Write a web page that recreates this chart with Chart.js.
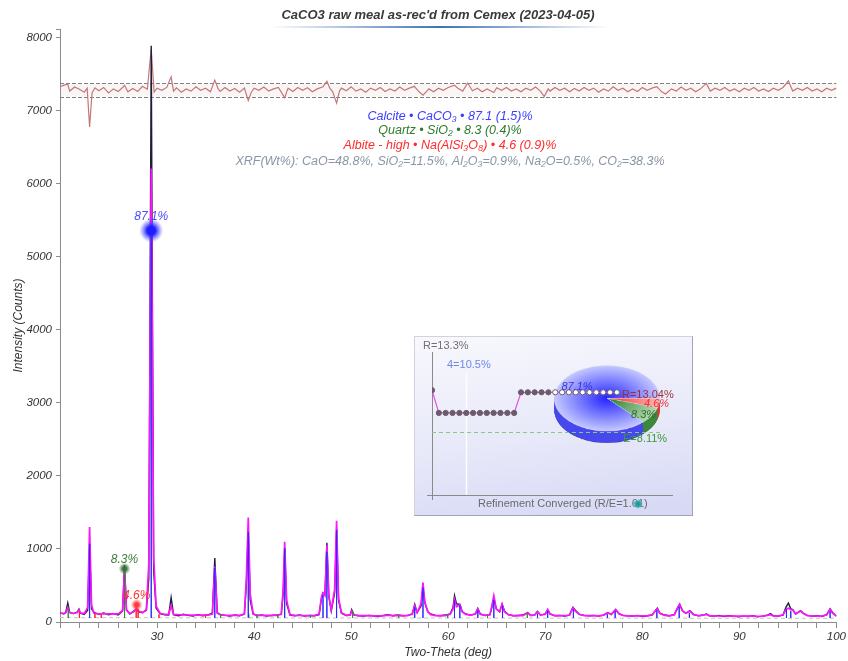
<!DOCTYPE html>
<html>
<head>
<meta charset="utf-8">
<script src="https://cdn.jsdelivr.net/npm/chart.js"></script>
<style>
  html, body { margin: 0; padding: 0; background: #fff; }
  #wrap { position: relative; width: 848px; height: 661px; }
  #main { position: absolute; left: 0; top: 0; }
  #inset {
    position: absolute; left: 414px; top: 336px; width: 277px; height: 178px;
    border: 1px solid #d2d2dc; border-right-color: #a4a4b0; border-bottom-color: #a4a4b0;
    background: linear-gradient(172deg, #f8f8fd 0%, #e9eaf9 50%, #d6d8f5 100%);
    overflow: hidden;
  }
  #pie { position: absolute; left: 137px; top: 27px; transform-origin: 0 0; transform: scaleY(0.623); }
  #conv { position: absolute; left: 0; top: 0; }
</style>
</head>
<body>
<div id="wrap">
  <canvas id="main" width="848" height="661"></canvas>
  <div id="inset">
    <canvas id="pie" width="110" height="130"></canvas>
    <canvas id="conv" width="277" height="178"></canvas>
  </div>
</div>
<script>
// ---- scan data (two-theta in deg, counts) ----
const twoTheta = [
  20.0, 20.4, 20.6, 20.8, 21.0, 21.4, 21.8, 21.95, 22.1, 22.5,
  22.85, 23.05, 23.25, 23.5, 24.0, 24.5, 25.0, 25.5, 26.0, 26.45,
  26.65, 26.85, 27.2, 27.6, 27.9, 28.1, 28.5, 28.9, 29.15, 29.4,
  29.65, 29.9, 30.3, 30.8, 31.2, 31.45, 31.7, 32.2, 32.7, 33.2,
  33.7, 34.2, 34.7, 35.2, 35.7, 35.95, 36.2, 36.6, 37.0, 37.5,
  38.0, 38.5, 39.0, 39.2, 39.4, 39.6, 39.9, 40.3, 40.8, 41.3,
  41.8, 42.3, 42.8, 43.0, 43.15, 43.35, 43.7, 44.2, 44.7, 45.2,
  45.7, 46.2, 46.7, 46.95, 47.1, 47.3, 47.5, 47.7, 47.95, 48.3,
  48.5, 48.7, 49.0, 49.5, 49.9, 50.05, 50.3, 50.8, 51.3, 51.8,
  52.3, 52.8, 53.3, 53.8, 54.3, 54.8, 55.3, 55.8, 56.3, 56.55,
  56.8, 57.2, 57.4, 57.6, 57.9, 58.2, 58.7, 59.2, 59.7, 60.2,
  60.5, 60.65, 60.85, 61.2, 61.45, 61.8, 62.3, 62.8, 63.05, 63.3,
  63.8, 64.3, 64.5, 64.7, 64.95, 65.3, 65.55, 65.8, 66.2, 66.7,
  67.2, 67.7, 68.2, 68.5, 68.9, 69.2, 69.5, 70.0, 70.25, 70.5, 71.0,
  71.5, 72.0, 72.5, 72.85, 73.1, 73.5, 74.0, 74.5, 75.0, 75.5,
  76.0, 76.45, 76.8, 77.25, 77.6, 78.0, 78.5, 79.0, 79.5, 80.0,
  80.5, 81.0, 81.55, 81.8, 82.3, 82.8, 83.3, 83.6, 83.85, 84.15,
  84.5, 84.9, 85.3, 85.8, 86.3, 86.6, 86.9, 87.4, 87.9, 88.4,
  88.9, 89.4, 89.9, 90.4, 90.9, 91.4, 91.9, 92.4, 92.9, 93.2,
  93.5, 94.0, 94.5, 94.8, 95.05, 95.3, 95.5, 95.8, 96.3, 96.6,
  97.0, 97.5, 98.0, 98.5, 99.0, 99.35, 99.6, 100.0
];
const observed = [
  125, 110, 135, 260, 130, 115, 140, 175, 120, 105,
  160, 1060, 180, 130, 105, 125, 100, 115, 95, 150,
  780, 170, 110, 150, 180, 140, 130, 160, 600, 7890,
  700, 190, 115, 100, 95, 335, 100, 85, 105, 90,
  80, 100, 85, 95, 120, 875, 130, 95, 90, 80,
  95, 85, 110, 500, 1230, 300, 110, 90, 95, 80,
  90, 95, 105, 400, 1010, 250, 95, 85, 95, 80,
  90, 85, 100, 330, 395, 380, 1085, 350, 150, 400,
  1260, 300, 120, 90, 95, 170, 95, 85, 80, 90,
  85, 75, 90, 100, 85, 95, 85, 90, 110, 240,
  130, 220, 470, 260, 140, 110, 90, 85, 95, 110,
  200, 360, 250, 240, 140, 110, 95, 110, 185, 110,
  90, 100, 200, 330, 180, 140, 245, 150, 100, 85,
  90, 95, 130, 90, 95, 145, 95, 110, 170, 110, 85,
  90, 80, 95, 200, 160, 105, 90, 85, 90, 80,
  95, 130, 100, 170, 110, 90, 85, 80, 90, 75,
  85, 95, 190, 120, 95, 85, 100, 180, 245, 150,
  120, 155, 100, 85, 95, 110, 85, 80, 90, 75,
  85, 80, 70, 80, 75, 85, 70, 80, 95, 115,
  85, 80, 95, 200, 260, 180, 170, 110, 155, 120,
  90, 80, 85, 75, 100, 180, 130, 80
];
const calculated = [
  120, 119, 125, 200, 130, 117, 130, 165, 125, 115,
  200, 1300, 230, 120, 112, 112, 110, 110, 110, 160,
  720, 160, 115, 140, 190, 150, 125, 170, 800, 6210,
  900, 220, 120, 105, 105, 220, 105, 100, 98, 96,
  95, 94, 93, 93, 110, 760, 120, 95, 93, 92,
  92, 92, 110, 600, 1430, 380, 110, 92, 91, 90,
  90, 90, 110, 450, 1100, 300, 100, 90, 89, 88,
  88, 88, 110, 350, 400, 360, 1050, 360, 170, 450,
  1385, 330, 125, 90, 92, 150, 95, 87, 86, 86,
  85, 85, 85, 95, 86, 92, 86, 87, 110, 220,
  130, 250, 540, 270, 140, 100, 88, 87, 88, 105,
  180, 305, 210, 235, 140, 105, 95, 110, 180, 105,
  92, 100, 220, 360, 180, 140, 245, 140, 100, 88,
  87, 88, 125, 92, 95, 140, 95, 105, 170, 110, 88,
  86, 86, 95, 195, 150, 105, 88, 86, 86, 85,
  95, 125, 105, 170, 115, 90, 85, 84, 84, 83,
  83, 95, 185, 120, 90, 84, 100, 190, 240, 150,
  120, 150, 100, 86, 95, 105, 88, 83, 82, 82,
  81, 81, 80, 80, 80, 80, 79, 80, 90, 100,
  85, 82, 100, 170, 190, 170, 165, 110, 150, 115,
  88, 82, 81, 81, 100, 175, 120, 85
];
// fitted background (grey dashed)
const backgroundTheta = [20, 40, 60, 80, 100];
const backgroundCounts = [60, 56, 54, 52, 50];

// phase reflections [two-theta, counts]
const calciteSticks = [[23.05, 1070], [29.4, 5360], [35.95, 740], [39.4, 1230], [43.15, 1010], [47.1, 370],
  [47.5, 960], [48.5, 1260], [56.55, 200], [57.4, 470], [60.65, 290], [61.2, 225], [63.05, 160], [64.7, 300],
  [65.6, 220], [69.2, 115], [70.25, 150], [72.9, 170], [76.4, 105], [77.2, 150], [81.5, 160], [83.8, 210],
  [84.85, 125], [94.85, 175], [95.3, 150], [99.35, 145]];
const quartzSticks = [[20.85, 175], [26.65, 720], [36.55, 105], [39.45, 110], [40.3, 95], [42.45, 95],
  [45.8, 90], [50.15, 150], [54.9, 95], [59.95, 110], [64.05, 90], [68.15, 120]];
const albiteSticks = [[22.0, 140], [23.6, 110], [24.25, 100], [27.85, 225], [28.05, 180], [30.2, 105], [35.0, 90]];
const stickBase = 55;

// difference curve (obs - calc), plotted around an offset
const residualOffset = 7290;
const residualBand = [7195, 7375];
const residual = [
  [20.0, 40], [20.5, 65], [20.8, 75], [21.0, -20], [21.5, 35], [22.0, 5], [22.5, -35], [22.8, 20], [23.05, -510],
  [23.3, -45], [23.6, 25], [24.0, -15], [24.5, 30], [25.0, -45], [25.5, 10], [26.0, -25], [26.5, 35], [26.65, 60],
  [27.0, -30], [27.5, 15], [28.0, -25], [28.5, 45], [29.0, 5], [29.4, 560], [29.7, -35], [30.0, 20], [30.5, -10],
  [31.0, 30], [31.45, 175], [31.7, -20], [32.0, 25], [32.5, -35], [33.0, 10], [33.5, -20], [34.0, 40], [34.5, -10],
  [35.0, 20], [35.5, -30], [35.95, 130], [36.3, 10], [36.5, -25], [37.0, 30], [37.5, -20], [38.0, 15], [38.5, -35],
  [39.0, 20], [39.4, -150], [39.7, -40], [40.0, 20], [40.5, -10], [41.0, 35], [41.5, -20], [42.0, 10], [42.5, 30],
  [43.15, -110], [43.5, 20], [44.0, -25], [44.5, 30], [45.0, -10], [45.5, 25], [46.0, -30], [46.5, 10], [47.1, 40],
  [47.5, 115], [47.8, 20], [48.1, -30], [48.5, -185], [48.8, -20], [49.0, 20], [49.5, -15], [50.0, 40], [50.5, -20],
  [51.0, 10], [51.5, -35], [52.0, 20], [52.5, -10], [53.0, 30], [53.5, -25], [54.0, 10], [54.5, -20], [55.0, 35],
  [55.5, -10], [56.0, 20], [56.5, 45], [57.0, -30], [57.4, -75], [57.8, -20], [58.0, 10], [58.5, -30], [59.0, 20],
  [59.5, -10], [60.0, 30], [60.65, 60], [61.0, 20], [61.5, -20], [62.0, 90], [62.5, -15], [63.0, 20], [63.5, -30],
  [64.0, 10], [64.7, -40], [65.0, 25], [65.5, -10], [66.0, 30], [66.5, -20], [67.0, 10], [67.5, -30], [68.0, 20],
  [68.5, -10], [69.0, 35], [69.5, -20], [69.9, -95], [70.3, 10], [70.5, -20], [71.0, 30], [71.5, -10], [72.0, 20],
  [72.5, -30], [73.0, 15], [73.5, -20], [74.0, 30], [74.5, -10], [75.0, 20], [75.5, -35], [76.0, 10], [76.5, -20],
  [77.0, 40], [77.5, -10], [78.0, 20], [78.5, -30], [79.0, 10], [79.5, -25], [80.0, 30], [80.5, -10], [81.0, 20],
  [81.5, 40], [82.0, -30], [82.4, -60], [83.0, 10], [83.5, -20], [84.0, 35], [84.5, -10], [85.0, 20], [85.5, -30],
  [86.0, 10], [86.6, 85], [87.0, -20], [87.5, 20], [88.0, -10], [88.5, 30], [89.0, -20], [89.5, 10], [90.0, -30],
  [90.5, 20], [91.0, -10], [91.5, 30], [92.0, -20], [92.5, 10], [93.0, -25], [93.5, 20], [94.0, -10], [94.5, 30],
  [95.05, 120], [95.5, -20], [96.0, 20], [96.5, -10], [97.0, 30], [97.5, -20], [98.0, 10], [98.5, -30], [99.0, 20],
  [99.5, -10], [100.0, 20]
];

// axis ticks
const yTicks = [0, 1000, 2000, 3000, 4000, 5000, 6000, 7000, 8000, 8120];

// phases
const phaseNames = ['Calcite', 'Quartz', 'Albite - high'];
const phaseFormulas = ['CaCO₃', 'SiO₂', 'Na(AlSi₃O₈)'];
const phaseWt = [87.1, 8.3, 4.6];
const phaseEsd = [1.5, 0.4, 0.9];
const markerTheta = [29.4, 26.65, 27.9];
const markerCounts = [5360, 730, 235];
const xrfOxides = ['CaO', 'SiO₂', 'Al₂O₃', 'Na₂O', 'CO₂'];
const xrfWt = [48.8, 11.5, 0.9, 0.5, 38.3];

// refinement convergence (R %, per iteration)
const rHistory = [13.3, 10.5, 10.5, 10.5, 10.5, 10.5, 10.5, 10.5, 10.5, 10.5, 10.5, 10.5, 10.5,
  13.04, 13.04, 13.04, 13.04, 13.04, 13.04, 13.04, 13.04, 13.04, 13.04, 13.04, 13.04, 13.04, 13.04, 13.04];
const expectedR = 8.11;
const markIteration = 5;
const markLabel = '4=10.5%';

const FONT = '"Liberation Sans", Arial, sans-serif';
const phaseColors = ['#3c3cff', '#2e7a2e', '#ff2a2a'];
const markerLabelColors = ['#4a4aff', '#3d7d3d', '#ff3030'];

const xy = (xs, ys) => xs.map((x, i) => ({ x, y: ys[i] }));
function sticks(list) {
  const pts = [];
  list.forEach(([t, h]) => {
    pts.push({ x: t, y: stickBase }, { x: t, y: h }, { x: t, y: stickBase }, { x: t, y: null });
  });
  return pts;
}

const mainDecor = {
  id: 'mainDecor',
  beforeDatasetsDraw(chart) {
    const { ctx, chartArea: a, scales: { y } } = chart;
    const y1 = y.getPixelForValue(residualBand[1]);
    const y0 = y.getPixelForValue(residualBand[0]);
    ctx.save();
    ctx.fillStyle = 'rgba(220,170,170,0.10)';
    ctx.fillRect(a.left, y1, a.right - a.left, y0 - y1);
    ctx.strokeStyle = '#808080';
    ctx.lineWidth = 1;
    ctx.setLineDash([4, 2]);
    ctx.beginPath();
    ctx.moveTo(a.left, Math.round(y1) + 0.5); ctx.lineTo(a.right, Math.round(y1) + 0.5);
    ctx.moveTo(a.left, Math.round(y0) + 0.5); ctx.lineTo(a.right, Math.round(y0) + 0.5);
    ctx.stroke();
    ctx.restore();
  },
  afterDatasetsDraw(chart) {
    const { ctx, scales: { x, y } } = chart;
    ctx.save();
    // phase markers
    const radii = [12, 6, 6];
    const glow = [['rgba(30,30,255,1)', 'rgba(90,90,255,0)'], ['rgba(60,110,60,0.95)', 'rgba(90,140,90,0)'],
      ['rgba(255,50,50,0.95)', 'rgba(255,110,110,0)']];
    markerTheta.forEach((t, i) => {
      const px = x.getPixelForValue(t), py = y.getPixelForValue(markerCounts[i]);
      const g = ctx.createRadialGradient(px, py, 0, px, py, radii[i]);
      g.addColorStop(0, glow[i][0]);
      g.addColorStop(0.35, glow[i][0]);
      g.addColorStop(1, glow[i][1]);
      ctx.fillStyle = g;
      ctx.beginPath(); ctx.arc(px, py, radii[i], 0, Math.PI * 2); ctx.fill();
      ctx.font = 'italic 12px ' + FONT;
      ctx.fillStyle = markerLabelColors[i];
      ctx.textAlign = 'center';
      ctx.textBaseline = 'middle';
      ctx.fillText(phaseWt[i].toFixed(1) + '%', px, py - radii[i] - (i === 0 ? 2 : 3));
    });
    ctx.restore();
  },
  afterDraw(chart) {
    const { ctx } = chart;
    ctx.save();
    // title
    ctx.font = 'italic bold 13px ' + FONT;
    ctx.fillStyle = '#3a3a3a';
    ctx.textAlign = 'center';
    ctx.textBaseline = 'middle';
    ctx.fillText("CaCO3 raw meal as-rec'd from Cemex (2023-04-05)", 438, 15);
    const lg = ctx.createLinearGradient(270, 0, 610, 0);
    lg.addColorStop(0, 'rgba(70,120,180,0)');
    lg.addColorStop(0.5, 'rgba(60,115,180,1)');
    lg.addColorStop(1, 'rgba(70,120,180,0)');
    ctx.fillStyle = lg;
    ctx.fillRect(270, 26, 340, 2);
    // phase summary
    ctx.font = 'italic 12.5px ' + FONT;
    const lineY = [117, 131, 146];
    phaseNames.forEach((n, i) => {
      ctx.fillStyle = phaseColors[i];
      ctx.fillText(`${n} • ${phaseFormulas[i]} • ${phaseWt[i].toFixed(1)} (${phaseEsd[i].toFixed(1)})%`, 450, lineY[i]);
    });
    ctx.fillStyle = '#8a96a6';
    ctx.fillText('XRF(Wt%): ' + xrfOxides.map((o, i) => `${o}=${xrfWt[i].toFixed(1)}%`).join(', '), 450, 162);
    ctx.restore();
  }
};

const tickFont = { family: FONT, size: 11.5, style: 'italic' };
const titleFont = { family: FONT, size: 12, style: 'italic' };

new Chart(document.getElementById('main'), {
  type: 'line',
  data: {
    datasets: [
      { data: sticks(calciteSticks), borderColor: '#2a2aff', borderWidth: 1, spanGaps: false, order: 1 },
      { data: sticks(quartzSticks), borderColor: '#2e8b2e', borderWidth: 1, spanGaps: false, order: 1 },
      { data: sticks(albiteSticks), borderColor: '#ff2020', borderWidth: 1, spanGaps: false, order: 1 },
      { data: xy(twoTheta, calculated), borderColor: '#ff14ff', borderWidth: 1.7, order: 2 },
      { data: xy(twoTheta, observed), borderColor: '#1e1e3c', borderWidth: 1.4, order: 3 },
      { data: residual.map(([t, d]) => ({ x: t, y: residualOffset + d })), borderColor: '#c27878', borderWidth: 1.2, order: 4 },
      { data: xy(backgroundTheta, backgroundCounts), borderColor: '#c4c4c4', borderWidth: 1, borderDash: [4, 3], order: 5 }
    ]
  },
  options: {
    responsive: false,
    animation: false,
    events: [],
    layout: { padding: { top: 29, right: 10, left: 0, bottom: 0 } },
    elements: { point: { radius: 0 }, line: { tension: 0 } },
    plugins: { legend: { display: false }, tooltip: { enabled: false } },
    scales: {
      x: {
        type: 'linear', min: 20, max: 100,
        afterFit(s) { s.height = 39; },
        ticks: {
          stepSize: 2, autoSkip: false, maxRotation: 0, padding: 2, color: '#333', font: tickFont,
          callback: v => (v % 10 === 0 && v > 20) ? String(v) : ''
        },
        grid: { drawOnChartArea: false, tickLength: 6, color: '#8c8c8c' },
        border: { color: '#8c8c8c' },
        title: { display: true, text: 'Two-Theta (deg)', color: '#333', font: titleFont, padding: { top: 0, bottom: 1 } }
      },
      y: {
        type: 'linear', min: 0, max: 8120,
        afterFit(s) { s.width = 60; },
        afterBuildTicks(s) { s.ticks = yTicks.map(value => ({ value })); },
        ticks: {
          autoSkip: false, padding: 4, color: '#333', font: tickFont,
          callback: v => (v % 1000 === 0) ? String(v) : ''
        },
        grid: { drawOnChartArea: false, tickLength: 4, color: '#8c8c8c' },
        border: { color: '#8c8c8c' },
        title: { display: true, text: 'Intensity (Counts)', color: '#333', font: titleFont, padding: { top: 11, bottom: 0 } }
      }
    }
  },
  plugins: [mainDecor]
});

// ---- inset: 3D pie of phase fractions ----
const pieOrder = [2, 1, 0];
const pieInner = ['#2424ff', '#2c7c2c', '#ff2c2c'];
const pieOuter = ['#c6caff', '#b4dab4', '#ffb6b6'];
const pieSide = ['#4848ee', '#3c883c', '#e03838'];

const pieDepth = {
  id: 'pieDepth',
  beforeDatasetsDraw(chart) {
    const { ctx } = chart;
    const meta = chart.getDatasetMeta(0);
    ctx.save();
    for (let d = 19; d > 0; d--) {
      meta.data.forEach((arc, i) => {
        const p = arc.getProps(['x', 'y', 'startAngle', 'endAngle', 'outerRadius'], true);
        ctx.fillStyle = d === 19 ? '#3a3ab0' : pieSide[pieOrder[i]];
        if (pieOrder[i] !== 0 && d === 19) ctx.fillStyle = pieOrder[i] === 1 ? '#2e6a2e' : '#b02a2a';
        ctx.beginPath();
        ctx.moveTo(p.x, p.y + d);
        ctx.arc(p.x, p.y + d, p.outerRadius, p.startAngle, p.endAngle);
        ctx.closePath();
        ctx.fill();
      });
    }
    ctx.restore();
  }
};

new Chart(document.getElementById('pie'), {
  type: 'pie',
  data: {
    labels: pieOrder.map(i => phaseNames[i]),
    datasets: [{
      data: pieOrder.map(i => phaseWt[i]),
      borderWidth: 0.6,
      borderColor: '#e8e8f4',
      backgroundColor(c) {
        const chart = c.chart, a = chart.chartArea;
        const k = pieOrder[c.dataIndex];
        if (!a) return pieInner[k];
        const cx = (a.left + a.right) / 2, cy = (a.top + a.bottom) / 2;
        const r = Math.min(a.width, a.height) / 2;
        const g = chart.ctx.createRadialGradient(cx, cy, 0, cx, cy, r);
        g.addColorStop(0, pieInner[k]);
        g.addColorStop(1, pieOuter[k]);
        return g;
      }
    }]
  },
  options: {
    responsive: false, animation: false, events: [],
    rotation: 90,
    layout: { padding: { top: 2, left: 2, right: 2, bottom: 22 } },
    plugins: { legend: { display: false }, tooltip: { enabled: false } }
  },
  plugins: [pieDepth]
});

// ---- inset: convergence history ----
const convDecor = {
  id: 'convDecor',
  beforeDatasetsDraw(chart) {
    const { ctx, chartArea: a, scales: { x, y } } = chart;
    ctx.save();
    ctx.strokeStyle = '#8a8a8a';
    ctx.lineWidth = 1;
    ctx.beginPath();
    ctx.moveTo(a.left + 0.5, a.top); ctx.lineTo(a.left + 0.5, a.bottom + 5);
    ctx.moveTo(a.left - 5, a.bottom + 0.5); ctx.lineTo(a.right, a.bottom + 0.5);
    ctx.stroke();
    const mx = Math.round(x.getPixelForValue(markIteration)) + 0.5;
    ctx.strokeStyle = 'rgba(255,255,255,0.9)';
    ctx.lineWidth = 1.5;
    ctx.beginPath(); ctx.moveTo(mx, a.top + 21); ctx.lineTo(mx, a.bottom); ctx.stroke();
    const ey = Math.round(y.getPixelForValue(expectedR)) + 0.5;
    ctx.strokeStyle = '#86c886';
    ctx.lineWidth = 1;
    ctx.setLineDash([4, 3]);
    ctx.beginPath(); ctx.moveTo(a.left, ey); ctx.lineTo(a.right - 10, ey); ctx.stroke();
    ctx.restore();
  },
  afterDraw(chart) {
    const { ctx } = chart;
    const last = rHistory[rHistory.length - 1];
    ctx.save();
    ctx.textBaseline = 'middle';
    ctx.textAlign = 'left';
    ctx.font = '11px ' + FONT;
    ctx.fillStyle = '#707070';
    ctx.fillText('R=' + rHistory[0].toFixed(1) + '%', 8, 9);
    ctx.fillStyle = '#6f86ea';
    ctx.fillText(markLabel, 32, 28);
    ctx.font = 'italic 11px ' + FONT;
    ctx.fillStyle = '#3434dc';
    ctx.textAlign = 'center';
    ctx.fillText(phaseWt[0].toFixed(1) + '%', 162, 50);
    ctx.textAlign = 'left';
    ctx.font = '11px ' + FONT;
    ctx.fillStyle = '#9a3030';
    ctx.fillText('R=' + last.toFixed(2) + '%', 207, 58);
    ctx.font = 'italic 11px ' + FONT;
    ctx.fillStyle = '#ee3030';
    ctx.fillText(phaseWt[2].toFixed(1) + '%', 229, 67);
    ctx.fillStyle = '#2d6e2d';
    ctx.fillText(phaseWt[1].toFixed(1) + '%', 216, 78);
    ctx.font = '11px ' + FONT;
    ctx.fillStyle = '#3a9a3a';
    ctx.fillText('E=' + expectedR.toFixed(2) + '%', 208, 102);
    ctx.fillStyle = '#6a6a6a';
    ctx.fillText('Refinement Converged (R/E=' + (last / expectedR).toFixed(2) + ')', 63, 167);
    const g = ctx.createRadialGradient(223, 167, 0, 223, 167, 5);
    g.addColorStop(0, '#0b8f8f');
    g.addColorStop(0.6, '#3aaeae');
    g.addColorStop(1, 'rgba(120,200,200,0)');
    ctx.fillStyle = g;
    ctx.beginPath(); ctx.arc(223, 167, 5, 0, Math.PI * 2); ctx.fill();
    ctx.restore();
  }
};

new Chart(document.getElementById('conv'), {
  type: 'line',
  data: {
    datasets: [{
      data: rHistory.map((v, i) => ({ x: i, y: v })),
      borderColor: '#e84ce8',
      borderWidth: 1.2,
      pointRadius: 2.6,
      pointBorderWidth: 1,
      pointBorderColor: '#6a5c6a',
      pointBackgroundColor: c => (c.dataIndex >= 18 ? '#ffffff' : '#6a5c6a')
    }]
  },
  options: {
    responsive: false, animation: false, events: [],
    layout: { padding: { left: 17, right: 19, top: 15, bottom: 20 } },
    elements: { line: { tension: 0 } },
    plugins: { legend: { display: false }, tooltip: { enabled: false } },
    scales: {
      x: { type: 'linear', display: false, min: 0, max: 35.2 },
      y: { type: 'linear', display: false, min: 0.4, max: 18 }
    }
  },
  plugins: [convDecor]
});
</script>
</body>
</html>
